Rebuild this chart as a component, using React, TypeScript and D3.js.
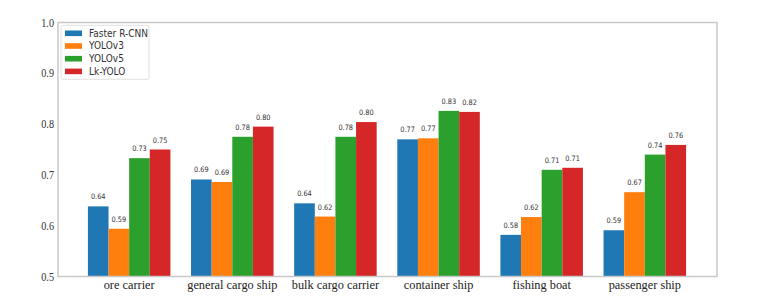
import React from "react";
import * as d3 from "d3";

const categories = ["ore carrier", "general cargo ship", "bulk cargo carrier", "container ship", "fishing boat", "passenger ship"];
const seriesNames = ["Faster R-CNN", "YOLOv3", "YOLOv5", "Lk-YOLO"];
const fasterRCNN = [0.638, 0.691, 0.644, 0.770, 0.582, 0.591];
const yolov3 = [0.594, 0.686, 0.618, 0.772, 0.617, 0.666];
const yolov5 = [0.733, 0.775, 0.775, 0.826, 0.710, 0.740];
const lkYolo = [0.750, 0.795, 0.804, 0.824, 0.714, 0.759];
const yTicks = [0.5, 0.6, 0.7, 0.8, 0.9, 1.0];
const colors = ["#1f77b4", "#ff7f0e", "#2ca02c", "#d62728"];

const W = 761, H = 306;
const L = 58, R = 717, T = 22.5, B = 276.5;
const SERIF = "'Liberation Serif', 'Times New Roman', 'DejaVu Serif', serif";
const SANS = "'DejaVu Sans', sans-serif";

function T2(props: { x: number; y: number; sx?: number; children: React.ReactNode; [k: string]: any }) {
  const { x, y, sx = 0.9, children, ...rest } = props;
  return (
    <text transform={`translate(${x},${y}) scale(${sx},1)`} {...rest}>
      {children}
    </text>
  );
}

export default function App() {
  const series = [fasterRCNN, yolov3, yolov5, lkYolo];
  const x = d3.scaleLinear().domain([-0.69, 5.7]).range([L, R]);
  const y = d3.scaleLinear().domain([0.5, 1.0]).range([B, T]);
  const bw = 0.2;
  const bwPx = x(bw) - x(0);
  return (
    <div style={{ position: "absolute", left: 0, top: 0 }}>
      <svg width={W} height={H} style={{ display: "block", background: "#fff" }}>
        {series.map((vals, s) =>
          vals.map((v, i) => {
            const cx = i + (s - 1.5) * bw;
            const x0 = x(cx - bw / 2);
            return (
              <g key={`${s}-${i}`}>
                <rect x={x0} y={y(v)} width={bwPx} height={y(0.5) - y(v)} fill={colors[s]} />
                <T2 x={x(cx)} y={y(v) - 7} sx={0.88} textAnchor="middle" fontFamily={SANS} fontSize={7.5} fill="#333">
                  {d3.format(".2f")(v)}
                </T2>
              </g>
            );
          })
        )}
        <rect x={L} y={T} width={R - L} height={B - T} fill="none" stroke="#c8c8c8" strokeWidth={1.5} />
        {yTicks.map((t) => (
          <T2 key={t} x={L - 4} y={y(t) + 4} sx={0.85} textAnchor="end" fontFamily={SERIF} fontSize={12} fill="#333">
            {d3.format(".1f")(t)}
          </T2>
        ))}
        {categories.map((c, i) => (
          <T2 key={c} x={x(i)} y={288.7} sx={0.95} textAnchor="middle" fontFamily={SERIF} fontSize={13} fill="#222">
            {c}
          </T2>
        ))}
        <g>
          <rect x={61} y={25.3} width={88} height={54} fill="#fff" stroke="#e0e0e0" strokeWidth={1} rx={2} />
          {seriesNames.map((n, s) => (
            <g key={n}>
              <rect x={65} y={33.3 + s * 12.7 - 2.8} width={17} height={5.6} fill={colors[s]} />
              <T2 x={89} y={36.7 + s * 12.7} sx={0.9} fontFamily={SANS} fontSize={10} fill="#333">
                {n}
              </T2>
            </g>
          ))}
        </g>
      </svg>
    </div>
  );
}
